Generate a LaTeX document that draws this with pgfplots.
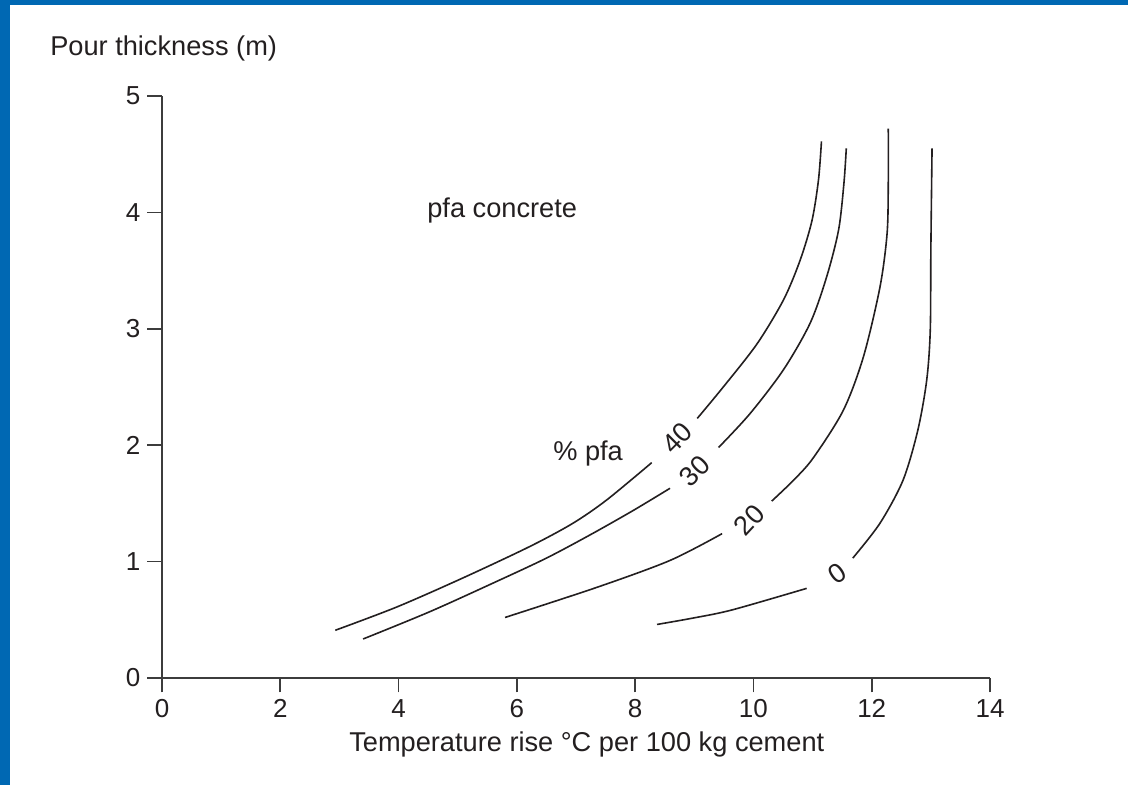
\documentclass[border=0pt]{standalone}
\usepackage{fontspec}
\setmainfont{Liberation Sans}
\usepackage{pgfplots}
\pgfplotsset{compat=1.18}
\definecolor{frameblue}{RGB}{0,104,179}
\definecolor{ink}{RGB}{35,31,32}
\definecolor{axisgray}{RGB}{60,60,60}
\pgfplotsset{curve/.style={ink, line width=0.8pt, smooth, mark=none}}

\begin{document}
\begin{tikzpicture}[x=1pt,y=1pt]
  % page 1128x785 px at 2 px per pt
  \path[use as bounding box] (0,0) rectangle (564,392.5);
  \fill[white] (0,0) rectangle (564,392.5);
  \fill[frameblue] (0,0) rectangle (5,392.5);
  \fill[frameblue] (0,390) rectangle (564,392.5);
  \begin{axis}[
      at={(81pt,53.5pt)}, anchor=south west,
      scale only axis, width=414pt, height=291pt,
      xmin=0, xmax=14, ymin=0, ymax=5,
      xtick={0,2,...,14}, ytick={0,1,...,5},
      axis lines=left,
      axis line style={-, axisgray, line width=0.8pt},
      tick style={axisgray, line width=0.8pt},
      tick align=outside,
      major tick length=7.25pt,
      /pgf/number format/assume math mode=true,
      tick label style={font=\fontsize{13}{15}\selectfont, text=ink},
      xlabel={Temperature rise °C per 100 kg cement},
      ylabel={Pour thickness (m)},
      label style={font=\fontsize{13.6}{16}\selectfont, text=ink},
      xlabel style={at={(axis description cs:0.513,-0.115)}, anchor=center},
      ylabel style={rotate=-90, at={(axis description cs:0.002,1.0825)}, anchor=center},
      clip=false,
    ]
    % 40 % pfa
    \addplot[curve] coordinates {
      (2.93,0.41) (3.97,0.61) (5.09,0.86) (6.22,1.13) (6.95,1.33) (7.52,1.53) (8.28,1.85)
    };
    \addplot[curve] coordinates {
      (9.05,2.23) (9.49,2.50) (10.06,2.87) (10.51,3.25) (10.79,3.59) (10.99,3.93) (11.10,4.28) (11.15,4.61)
    };
    % 30 % pfa
    \addplot[curve] coordinates {
      (3.40,0.335) (4.53,0.57) (5.66,0.83) (6.50,1.03) (7.24,1.23) (7.97,1.44) (8.59,1.63)
    };
    \addplot[curve] coordinates {
      (9.41,1.98) (9.94,2.27) (10.51,2.65) (10.96,3.05) (11.24,3.45) (11.44,3.85) (11.53,4.25) (11.57,4.55)
    };
    % 20 % pfa
    \addplot[curve] coordinates {
      (5.80,0.52) (7.36,0.78) (8.59,1.01) (9.47,1.24)
    };
    \addplot[curve] coordinates {
      (10.31,1.52) (10.68,1.70) (11.01,1.89) (11.52,2.30) (11.86,2.76) (12.14,3.36) (12.26,3.82) (12.28,4.25) (12.28,4.72)
    };
    % 0 % pfa
    \addplot[curve] coordinates {
      (8.37,0.46) (8.98,0.515) (9.64,0.585) (10.90,0.77)
    };
    \addplot[curve] coordinates {
      (11.68,1.03) (12.14,1.33) (12.53,1.70) (12.78,2.13) (12.93,2.56) (12.99,2.99) (13.00,3.68) (13.02,4.55)
    };
    \begin{scope}[every node/.style={font=\fontsize{13.6}{16}\selectfont, text=ink, inner sep=0pt}]
      \node[rotate=45] at (axis cs:8.71,2.06) {40};
      \node[rotate=45] at (axis cs:9.01,1.78) {30};
      \node[rotate=47] at (axis cs:9.93,1.36) {20};
      \node[rotate=35] at (axis cs:11.41,0.90) {0};
      \node[anchor=base west] at (axis cs:4.48,3.96) {pfa concrete};
      \node[anchor=base west] at (axis cs:6.61,1.87) {\% pfa};
    \end{scope}
  \end{axis}
\end{tikzpicture}
\end{document}
